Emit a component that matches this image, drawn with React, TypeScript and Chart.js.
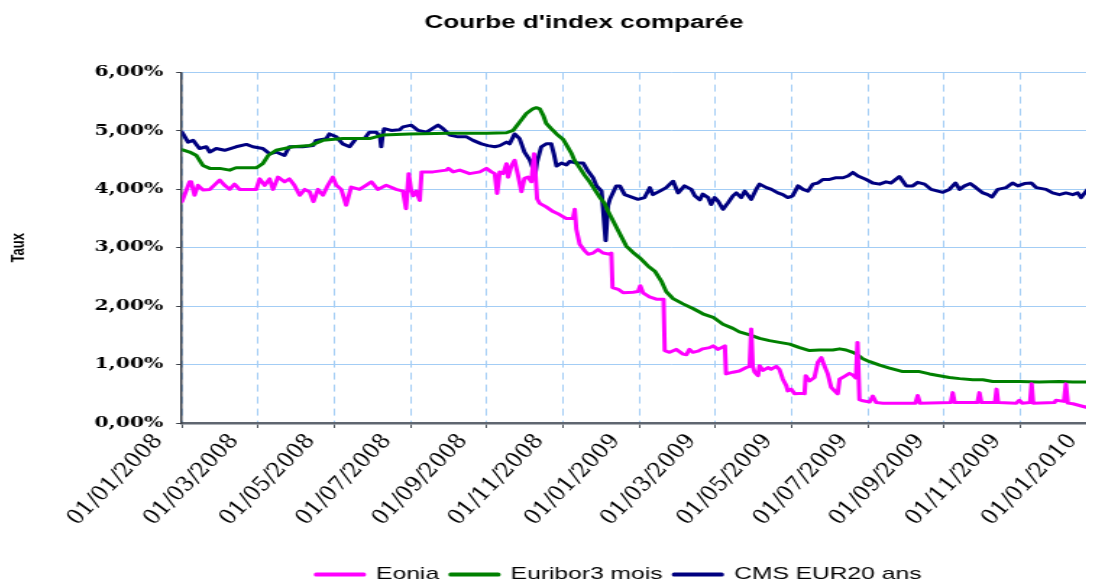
import React, { useEffect, useRef } from 'react';
import { Chart, registerables } from 'chart.js';

Chart.register(...registerables);

const chartTitle = "Courbe d'index comparée";
const yAxisTitle = 'Taux';
const seriesNames = ['Eonia', 'Euribor3 mois', 'CMS EUR20 ans'];
const seriesColors = ['#ff00ff', '#008000', '#000080'];

const xTickLabels = [
  '01/01/2008', '01/03/2008', '01/05/2008', '01/07/2008', '01/09/2008', '01/11/2008',
  '01/01/2009', '01/03/2009', '01/05/2009', '01/07/2009', '01/09/2009', '01/11/2009',
  '01/01/2010',
];

// x = months elapsed since 01/01/2008, y = rate in %
const eoniaMonths = [
  0.00, 0.20, 0.24, 0.33, 0.42, 0.55, 0.73, 0.99, 1.12, 1.25, 1.38, 1.51, 1.95, 2.04, 2.17, 2.30,
  2.39, 2.52, 2.69, 2.82, 2.95, 3.09, 3.22, 3.35, 3.45, 3.57, 3.70, 3.83, 3.96, 4.05, 4.18, 4.31,
  4.44, 4.66, 4.83, 4.97, 5.14, 5.36, 5.62, 5.80, 5.88, 5.95, 6.01, 6.07, 6.15, 6.24, 6.29, 6.59,
  6.94, 6.99, 7.12, 7.29, 7.55, 7.82, 7.99, 8.12, 8.21, 8.27, 8.34, 8.43, 8.52, 8.56, 8.65, 8.73,
  8.82, 8.91, 8.99, 9.08, 9.17, 9.24, 9.28, 9.32, 9.39, 9.56, 9.74, 9.91, 10.09, 10.26, 10.31, 10.35,
  10.44, 10.57, 10.66, 10.79, 10.92, 11.05, 11.23, 11.27, 11.30, 11.45, 11.58, 11.84, 11.97, 12.03, 12.10, 12.27,
  12.45, 12.64, 12.67, 12.80, 12.97, 13.15, 13.24, 13.32, 13.41, 13.54, 13.67, 13.85, 13.94, 14.07, 14.25, 14.28,
  14.46, 14.63, 14.81, 14.90, 14.94, 14.98, 15.03, 15.12, 15.16, 15.25, 15.38, 15.46, 15.60, 15.68, 15.77, 15.86,
  15.90, 15.99, 16.08, 16.30, 16.34, 16.37, 16.47, 16.60, 16.69, 16.78, 16.86, 16.95, 17.04, 17.13, 17.21, 17.26,
  17.39, 17.52, 17.61, 17.69, 17.73, 17.78, 17.87, 18.05, 18.13, 18.22, 18.40, 19.25, 19.31, 19.37, 20.18, 20.23,
  20.28, 20.88, 20.93, 20.98, 21.34, 21.38, 21.42, 21.90, 21.98, 22.05, 22.26, 22.30, 22.34, 22.90, 22.94, 23.15,
  23.20, 23.25, 23.38, 23.73, 23.92,
];
const eoniaRates = [
  3.79, 4.13, 4.13, 3.90, 4.07, 3.99, 4.00, 4.16, 4.07, 4.00, 4.09, 4.00, 4.00, 4.18, 4.07, 4.18,
  4.00, 4.21, 4.13, 4.18, 4.07, 3.90, 4.00, 3.96, 3.79, 4.00, 3.90, 4.07, 4.21, 4.07, 4.00, 3.73,
  4.04, 4.00, 4.07, 4.13, 4.00, 4.07, 4.00, 3.97, 3.67, 4.27, 4.00, 3.89, 3.97, 3.81, 4.30, 4.30,
  4.33, 4.36, 4.30, 4.33, 4.27, 4.30, 4.36, 4.30, 4.27, 3.93, 4.30, 4.27, 4.44, 4.21, 4.41, 4.50,
  4.24, 3.96, 4.19, 4.21, 4.13, 4.61, 4.24, 3.84, 3.76, 3.70, 3.62, 3.57, 3.50, 3.50, 3.66, 3.32,
  3.06, 2.95, 2.89, 2.91, 2.97, 2.91, 2.89, 2.91, 2.32, 2.29, 2.23, 2.24, 2.25, 2.35, 2.23, 2.16,
  2.12, 2.12, 1.24, 1.21, 1.26, 1.18, 1.17, 1.26, 1.21, 1.23, 1.27, 1.29, 1.32, 1.26, 1.32, 0.84,
  0.87, 0.89, 0.95, 0.97, 1.61, 0.97, 0.87, 0.81, 0.98, 0.90, 0.95, 0.92, 0.97, 0.92, 0.75, 0.64,
  0.55, 0.58, 0.50, 0.51, 0.50, 0.81, 0.72, 0.78, 1.04, 1.12, 0.98, 0.84, 0.61, 0.55, 0.50, 0.75,
  0.80, 0.85, 0.82, 0.77, 1.38, 0.40, 0.38, 0.36, 0.46, 0.35, 0.34, 0.34, 0.47, 0.34, 0.35, 0.52,
  0.35, 0.35, 0.52, 0.35, 0.35, 0.58, 0.35, 0.34, 0.39, 0.34, 0.35, 0.67, 0.34, 0.35, 0.39, 0.37,
  0.67, 0.34, 0.33, 0.27, 0.33,
];

const euriborMonths = [
  0.00, 0.20, 0.38, 0.55, 0.73, 0.99, 1.25, 1.42, 1.95, 2.12, 2.26, 2.47, 2.91, 3.35, 3.70, 4.22,
  4.92, 5.27, 5.97, 7.00, 8.00, 8.52, 8.69, 8.86, 9.04, 9.21, 9.30, 9.39, 9.48, 9.56, 9.69, 9.83,
  10.00, 10.13, 10.22, 10.30, 10.44, 10.57, 10.70, 10.83, 10.96, 11.09, 11.18, 11.27, 11.45, 11.66, 11.84, 12.01,
  12.23, 12.41, 12.58, 12.71, 12.89, 13.15, 13.41, 13.67, 13.94, 14.20, 14.46, 14.63, 14.90, 15.16, 15.42, 15.68,
  15.95, 16.21, 16.47, 16.73, 17.08, 17.26, 17.43, 17.61, 17.70, 17.87, 18.05, 18.31, 18.57, 18.92, 19.36, 19.62,
  19.88, 20.14, 20.41, 20.76, 21.02, 21.28, 21.98, 22.50, 23.03, 23.38, 23.92,
];
const euriborRates = [
  4.68, 4.64, 4.58, 4.41, 4.36, 4.36, 4.33, 4.37, 4.37, 4.44, 4.58, 4.67, 4.73, 4.75, 4.84, 4.87,
  4.87, 4.93, 4.95, 4.96, 4.96, 4.97, 5.01, 5.15, 5.30, 5.38, 5.40, 5.38, 5.27, 5.13, 5.04, 4.95,
  4.86, 4.72, 4.62, 4.50, 4.37, 4.24, 4.13, 4.00, 3.87, 3.76, 3.63, 3.52, 3.29, 3.03, 2.92, 2.83,
  2.69, 2.60, 2.43, 2.25, 2.13, 2.04, 1.96, 1.87, 1.81, 1.69, 1.62, 1.56, 1.51, 1.45, 1.41, 1.38,
  1.35, 1.29, 1.24, 1.25, 1.25, 1.27, 1.25, 1.21, 1.18, 1.10, 1.05, 0.99, 0.94, 0.88, 0.88, 0.84,
  0.81, 0.78, 0.76, 0.74, 0.74, 0.71, 0.71, 0.70, 0.71, 0.70, 0.70,
];

const cmsMonths = [
  0.00, 0.16, 0.29, 0.46, 0.64, 0.73, 0.90, 1.12, 1.42, 1.69, 1.86, 2.12, 2.30, 2.47, 2.69, 2.82,
  3.17, 3.44, 3.52, 3.79, 3.87, 4.05, 4.22, 4.40, 4.57, 4.79, 4.92, 5.10, 5.20, 5.23, 5.27, 5.31,
  5.49, 5.71, 5.80, 6.02, 6.20, 6.42, 6.72, 6.85, 7.03, 7.25, 7.47, 7.64, 7.86, 8.03, 8.21, 8.34,
  8.52, 8.60, 8.73, 8.86, 8.99, 9.13, 9.21, 9.26, 9.32, 9.43, 9.56, 9.69, 9.76, 9.83, 9.96, 10.09,
  10.18, 10.35, 10.53, 10.66, 10.79, 10.88, 11.01, 11.05, 11.12, 11.18, 11.23, 11.40, 11.49, 11.62, 11.84, 11.97,
  12.14, 12.28, 12.36, 12.54, 12.71, 12.89, 13.02, 13.19, 13.37, 13.46, 13.59, 13.67, 13.81, 13.89, 13.98, 14.07,
  14.20, 14.33, 14.46, 14.55, 14.68, 14.77, 14.94, 15.07, 15.16, 15.34, 15.47, 15.64, 15.77, 15.90, 16.03, 16.17,
  16.30, 16.43, 16.56, 16.69, 16.82, 17.00, 17.17, 17.35, 17.48, 17.61, 17.74, 17.96, 18.13, 18.31, 18.48, 18.61,
  18.83, 19.01, 19.18, 19.31, 19.49, 19.66, 19.84, 19.97, 20.14, 20.30, 20.41, 20.54, 20.69, 20.84, 21.02, 21.15,
  21.26, 21.41, 21.63, 21.80, 21.94, 22.11, 22.29, 22.42, 22.68, 22.85, 23.03, 23.20, 23.38, 23.51, 23.60, 23.77,
  23.92,
];
const cmsRates = [
  4.98, 4.81, 4.84, 4.70, 4.73, 4.64, 4.70, 4.67, 4.73, 4.77, 4.73, 4.70, 4.61, 4.64, 4.58, 4.73,
  4.73, 4.75, 4.84, 4.87, 4.95, 4.90, 4.78, 4.73, 4.87, 4.87, 4.98, 4.98, 4.90, 4.73, 4.95, 5.04,
  5.01, 5.02, 5.07, 5.10, 5.01, 4.98, 5.10, 5.04, 4.93, 4.90, 4.90, 4.84, 4.78, 4.75, 4.73, 4.75,
  4.81, 4.78, 4.95, 4.87, 4.64, 4.50, 4.36, 4.21, 4.47, 4.73, 4.78, 4.78, 4.61, 4.40, 4.45, 4.42,
  4.48, 4.45, 4.45, 4.31, 4.20, 4.06, 3.97, 3.69, 3.12, 3.72, 3.83, 4.06, 4.06, 3.91, 3.86, 3.83,
  3.86, 4.03, 3.91, 3.97, 4.03, 4.14, 3.94, 4.06, 4.00, 3.89, 3.82, 3.92, 3.86, 3.74, 3.86, 3.80,
  3.66, 3.77, 3.89, 3.94, 3.86, 3.97, 3.83, 4.00, 4.09, 4.03, 4.00, 3.94, 3.91, 3.86, 3.89, 4.06,
  4.00, 3.97, 4.09, 4.11, 4.17, 4.17, 4.20, 4.20, 4.23, 4.29, 4.23, 4.17, 4.11, 4.09, 4.13, 4.11,
  4.22, 4.06, 4.06, 4.12, 4.09, 4.00, 3.97, 3.95, 4.00, 4.11, 4.00, 4.06, 4.10, 4.03, 3.94, 3.91,
  3.87, 4.00, 4.03, 4.11, 4.06, 4.10, 4.11, 4.03, 4.00, 3.94, 3.91, 3.94, 3.91, 3.94, 3.86, 4.00,
  4.03,
];

const toPoints = (xs: number[], ys: number[]) => xs.map((x, i) => ({ x, y: ys[i] }));

// canvas drawn at 796px and displayed horizontally stretched, like the reference picture
const CANVAS_W = 796;
const CANVAS_H = 576;
const CSS_W = 1152;

const shiftLegend = {
  id: 'shiftLegend',
  afterLayout(chart: any) {
    const l = chart.legend;
    if (l) {
      l.left += 24;
      l.right += 24;
      l.top += 9;
      l.bottom += 9;
    }
  },
};

export default function App() {
  const ref = useRef<HTMLCanvasElement | null>(null);

  useEffect(() => {
    document.documentElement.style.overflow = 'hidden';
    document.body.style.overflow = 'hidden';
    const canvas = ref.current;
    if (!canvas) return;
    const gridBlue = '#a3cdf5';
    const chart = new Chart(canvas, {
      type: 'line',
      data: {
        datasets: [
          { label: seriesNames[0], data: toPoints(eoniaMonths, eoniaRates), borderColor: seriesColors[0], backgroundColor: seriesColors[0] },
          { label: seriesNames[1], data: toPoints(euriborMonths, euriborRates), borderColor: seriesColors[1], backgroundColor: seriesColors[1] },
          { label: seriesNames[2], data: toPoints(cmsMonths, cmsRates), borderColor: seriesColors[2], backgroundColor: seriesColors[2] },
        ],
      },
      options: {
        responsive: false,
        animation: false,
        devicePixelRatio: 1,
        layout: { padding: 0 },
        elements: {
          point: { radius: 0, hoverRadius: 0 },
          line: { borderWidth: 3, tension: 0, borderJoinStyle: 'round', borderCapStyle: 'round' },
        },
        plugins: {
          tooltip: { enabled: false },
          title: {
            display: true,
            text: chartTitle,
            color: '#000',
            font: { family: 'Liberation Sans', weight: 'bold', size: 18 },
            padding: { top: 4, bottom: 39 },
          },
          legend: {
            position: 'bottom',
            labels: {
              color: '#000',
              font: { family: 'Liberation Sans', size: 17 },
              boxWidth: 33,
              boxHeight: 1,
              padding: 8,
            },
          },
        },
        scales: {
          x: {
            type: 'linear',
            min: 0,
            max: 25.67,
            afterFit: (s: any) => {
              s.height = 126;
              s.paddingLeft = 0;
              s.paddingRight = 0;
            },
            grid: { color: gridBlue, lineWidth: 1, tickLength: 5, tickColor: '#4a5058', tickWidth: 1 },
            border: { display: true, color: '#5f6670', width: 2.5, dash: [7, 5] },
            ticks: {
              stepSize: 2,
              includeBounds: false,
              autoSkip: false,
              maxRotation: 55,
              minRotation: 55,
              labelOffset: -16,
              padding: 3,
              color: '#000',
              font: { family: 'DejaVu Serif', style: 'italic', size: 18 },
              callback: (v: any) => xTickLabels[Math.round(Number(v) / 2)] ?? '',
            },
          },
          y: {
            min: 0,
            max: 6,
            afterFit: (s: any) => {
              s.width = 120.2;
            },
            grid: { color: gridBlue, lineWidth: 1, tickLength: 4, tickColor: '#3a3f48' },
            border: { display: true, color: '#3a3f48', width: 1.5 },
            title: {
              display: true,
              text: yAxisTitle,
              color: '#000',
              font: { family: 'Liberation Sans', weight: 'bold', size: 13 },
              padding: { top: 0, bottom: 0 },
            },
            ticks: {
              stepSize: 1,
              padding: 9,
              color: '#000',
              font: { family: 'DejaVu Serif', weight: 'bold', size: 14 },
              callback: (v: any) => Number(v).toFixed(2).replace('.', ',') + '%',
            },
          },
        },
      },
      plugins: [shiftLegend],
    } as any);
    return () => chart.destroy();
  }, []);

  return (
    <div style={{ width: 1086, height: 576, overflow: 'hidden', position: 'relative' }}>
      <canvas
        ref={ref}
        width={CANVAS_W}
        height={CANVAS_H}
        style={{ width: CSS_W + 'px', height: CANVAS_H + 'px', display: 'block' }}
      />
    </div>
  );
}
